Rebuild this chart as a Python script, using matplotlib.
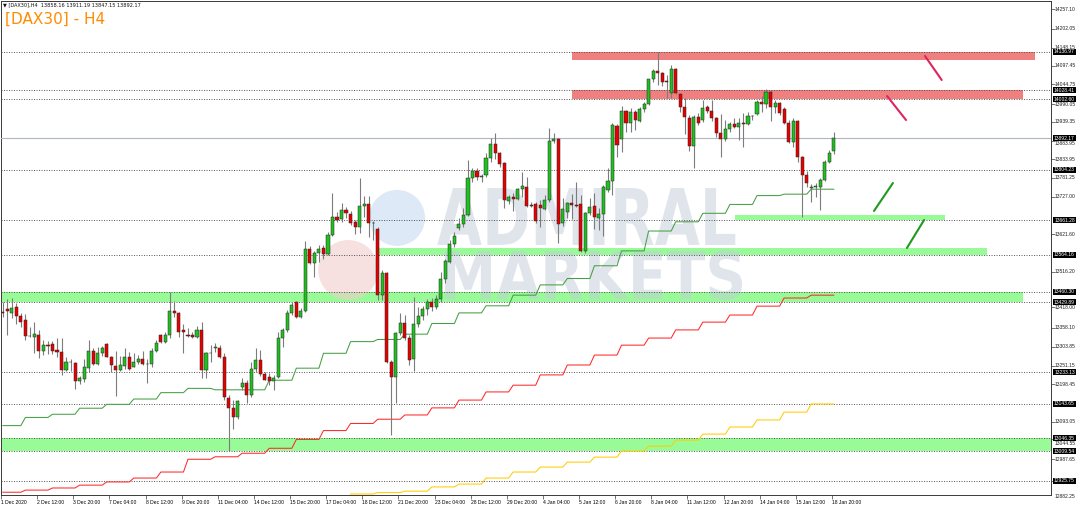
import numpy as np
import matplotlib
matplotlib.use("Agg")
import matplotlib.pyplot as plt
from matplotlib.patches import Rectangle, Ellipse, PathPatch
from matplotlib.textpath import TextPath
from matplotlib.font_manager import FontProperties
import matplotlib.transforms as mtransforms

# ---------------- data ----------------
opens = [13402, 13410, 13399, 13416, 13391, 13380, 13336, 13333, 13339, 13292,
         13309, 13313, 13295, 13290, 13239, 13262, 13259, 13208, 13214, 13245,
         13292, 13256, 13286, 13312, 13276, 13251, 13239, 13250, 13276, 13248,
         13262, 13271, 13257, 13255, 13292, 13338, 13319, 13339, 13406, 13401,
         13352, 13337, 13337, 13331, 13352, 13239, 13288, 13300, 13302, 13276,
         13159, 13131, 13105, 13192, 13201, 13168, 13241, 13267, 13227, 13220,
         13207, 13218, 13328, 13352, 13401, 13431, 13389, 13406, 13580, 13542,
         13568, 13582, 13566, 13620, 13670, 13664, 13690, 13679, 13657, 13643,
         13702, 13706, 13655, 13636, 13450, 13512, 13262, 13220, 13342, 13372,
         13328, 13270, 13368, 13391, 13410, 13430, 13418, 13440, 13497, 13545,
         13594, 13640, 13650, 13676, 13780, 13800, 13784, 13789, 13838, 13876,
         13850, 13822, 13716, 13728, 13720, 13749, 13756, 13705, 13707, 13704,
         13693, 13718, 13886, 13891, 13653, 13686, 13711, 13705, 13706, 13576,
         13681, 13702, 13667, 13678, 13747, 13772, 13928, 13891, 13970, 13935,
         13968, 13941, 13974, 13989, 14059, 14083, 14076, 14053, 14021, 14087,
         14017, 13982, 13949, 13871, 13952, 13944, 13980, 13970, 13949, 13907,
         13890, 13918, 13933, 13925, 13936, 13933, 13955, 13961, 13996, 13988,
         14024, 13980, 13991, 13975, 13937, 13883, 13941, 13841, 13789, 13751,
         13755, 13756, 13775, 13827, 13858.16]
highs = [13432, 13438, 13441, 13427, 13401, 13397, 13361, 13373, 13351, 13323,
         13321, 13321, 13330, 13330, 13276, 13269, 13261, 13222, 13269, 13323,
         13300, 13305, 13308, 13316, 13278, 13293, 13278, 13300, 13290, 13286,
         13281, 13293, 13269, 13300, 13323, 13340, 13347, 13460, 13434, 13403,
         13370, 13356, 13347, 13363, 13375, 13290, 13309, 13316, 13309, 13286,
         13168, 13154, 13154, 13215, 13210, 13262, 13300, 13295, 13234, 13229,
         13225, 13345, 13356, 13408, 13431, 13434, 13413, 13603, 13589, 13576,
         13592, 13591, 13629, 13737, 13686, 13709, 13698, 13688, 13662, 13780,
         13730, 13730, 13660, 13643, 13521, 13516, 13267, 13347, 13400, 13393,
         13338, 13446, 13417, 13420, 13440, 13442, 13450, 13516, 13551, 13606,
         13629, 13667, 13695, 13830, 13808, 13808, 13792, 13850, 13893, 13907,
         13855, 13826, 13733, 13737, 13751, 13798, 13784, 13714, 13714, 13718,
         13733, 13921, 13907, 13893, 13723, 13714, 13735, 13770, 13733, 13686,
         13725, 13739, 13695, 13761, 13808, 13937, 13933, 13984, 13973, 13977,
         13972, 13982, 13996, 14061, 14087, 14137, 14081, 14071, 14100, 14090,
         14021, 14005, 13958, 13958, 13964, 14002, 13987, 14002, 13953, 13961,
         13944, 13940, 13949, 13949, 13963, 13968, 13958, 14000, 14013, 14031,
         14029, 14001, 13996, 13982, 13944, 13949, 13944, 13843, 13801, 13764,
         13766, 13780, 13831, 13860, 13911.19]
lows = [13389, 13338, 13385, 13369, 13361, 13323, 13333, 13286, 13274, 13281,
        13284, 13284, 13276, 13225, 13237, 13237, 13184, 13199, 13206, 13234,
        13253, 13252, 13278, 13275, 13234, 13165, 13237, 13243, 13239, 13246,
        13257, 13253, 13201, 13246, 13290, 13314, 13314, 13328, 13389, 13331,
        13288, 13333, 13328, 13328, 13215, 13215, 13262, 13290, 13272, 13154,
        13011, 13071, 13100, 13182, 13147, 13163, 13234, 13222, 13211, 13196,
        13182, 13215, 13305, 13347, 13394, 13385, 13387, 13403, 13537, 13502,
        13545, 13551, 13563, 13617, 13657, 13657, 13667, 13648, 13624, 13626,
        13671, 13615, 13606, 13436, 13436, 13259, 13055, 13147, 13338, 13323,
        13253, 13237, 13361, 13380, 13395, 13405, 13410, 13430, 13483, 13540,
        13587, 13634, 13643, 13672, 13770, 13775, 13770, 13784, 13827, 13833,
        13813, 13695, 13707, 13688, 13719, 13728, 13698, 13700, 13655, 13643,
        13690, 13714, 13880, 13596, 13645, 13667, 13664, 13700, 13573, 13568,
        13676, 13638, 13634, 13617, 13742, 13732, 13841, 13855, 13911, 13911,
        13916, 13939, 13968, 13987, 14052, 14043, 14040, 14005, 14005, 14017,
        13968, 13906, 13857, 13808, 13930, 13939, 13965, 13942, 13895, 13841,
        13886, 13911, 13921, 13888, 13869, 13930, 13944, 13958, 13968, 13977,
        13942, 13963, 13958, 13933, 13880, 13869, 13827, 13671, 13756, 13714,
        13728, 13690, 13773, 13822, 13847.15]
closes = [13399, 13406, 13415, 13391, 13375, 13336, 13335, 13340, 13292, 13309,
          13307, 13293, 13290, 13239, 13262, 13261, 13208, 13216, 13248, 13292,
          13256, 13288, 13302, 13276, 13252, 13239, 13252, 13276, 13243, 13261,
          13271, 13257, 13255, 13292, 13316, 13319, 13338, 13406, 13399, 13347,
          13345, 13336, 13333, 13352, 13239, 13286, 13287, 13305, 13276, 13163,
          13131, 13105, 13151, 13201, 13168, 13241, 13267, 13227, 13212, 13208,
          13217, 13328, 13352, 13401, 13422, 13389, 13406, 13580, 13542, 13570,
          13580, 13566, 13620, 13670, 13662, 13690, 13683, 13655, 13643, 13702,
          13706, 13655, 13653, 13450, 13512, 13262, 13220, 13342, 13372, 13328,
          13267, 13368, 13391, 13410, 13430, 13418, 13440, 13497, 13546, 13594,
          13617, 13650, 13676, 13780, 13800, 13783, 13785, 13838, 13876, 13850,
          13819, 13719, 13728, 13721, 13749, 13758, 13702, 13703, 13660, 13695,
          13718, 13886, 13891, 13651, 13693, 13711, 13704, 13703, 13576, 13681,
          13700, 13671, 13678, 13754, 13772, 13930, 13874, 13970, 13935, 13968,
          13944, 13974, 13989, 14059, 14083, 14076, 14052, 14051, 14087, 14021,
          13982, 13954, 13871, 13952, 13937, 13977, 13970, 13949, 13908, 13890,
          13918, 13933, 13925, 13935, 13934, 13956, 13955, 13996, 13988, 14024,
          13980, 13991, 13963, 13937, 13883, 13941, 13841, 13789, 13766, 13756,
          13757, 13775, 13827, 13852, 13892.17]

# bars per trading day (first day partially shown), and one value per day for the step lines
day_bar_counts = [5] + [6] * 30
line_green_daily = [13082, 13105, 13114, 13131, 13142, 13157, 13175, 13187, 13183, 13183,
                    13210, 13244, 13286, 13319, 13325, 13340, 13370, 13400, 13420, 13450,
                    13479, 13497, 13533, 13575, 13631, 13657, 13681, 13706, 13731, 13735,
                    13749]
line_red_daily = [12894, 12900, 12906, 12914, 12923, 12934, 12951, 12987, 12994, 13004,
                  13018, 13043, 13068, 13088, 13100, 13112, 13132, 13154, 13177, 13196,
                  13225, 13253, 13281, 13309, 13329, 13352, 13374, 13394, 13419, 13442,
                  13450]
line_yellow_daily = [np.nan] * 13 + [12889, 12893, 12897, 12909, 12917, 12934, 12951, 12965,
                                     12979, 12993, 13010, 13024, 13041, 13058, 13078, 13098,
                                     13120, 13143]

level_prices = [14136.97, 14028.41, 14002.60, 13804.23, 13661.28, 13564.16, 13460.30,
                13429.89, 13233.13, 13143.65, 13046.35, 13009.54, 12925.75]
bid_price = 13892.17

axis_tick_prices = [14257.10, 14202.05, 14148.15, 14097.45, 14044.75, 13990.05, 13939.35,
                    13883.95, 13833.95, 13781.25, 13727.00, 13621.60, 13516.20, 13418.00,
                    13358.10, 13303.85, 13251.15, 13198.45, 13093.05, 13044.55, 12987.65,
                    12926.95, 12882.25]

time_tick_labels = ["1 Dec 2020", "2 Dec 12:00", "3 Dec 20:00", "7 Dec 04:00", "8 Dec 12:00",
                    "9 Dec 20:00", "11 Dec 04:00", "14 Dec 12:00", "15 Dec 20:00",
                    "17 Dec 04:00", "18 Dec 12:00", "21 Dec 20:00", "23 Dec 04:00",
                    "28 Dec 12:00", "29 Dec 20:00", "4 Jan 04:00", "5 Jan 12:00",
                    "6 Jan 20:00", "8 Jan 04:00", "11 Jan 12:00", "12 Jan 20:00",
                    "14 Jan 04:00", "15 Jan 12:00", "18 Jan 20:00"]
time_tick_step = 8

# zones: bar range and price range
red_zone_x0 = [126.1, 126.1]
red_zone_x1 = [228.6, 225.9]
red_zone_lo = [14113.6, 14002.60]
red_zone_hi = [14136.97, 14028.41]
green_zone_x0 = [162.2, 83.1, -1.0, -1.0]
green_zone_x1 = [208.7, 217.9, 225.9, 240.0]
green_zone_lo = [13661.28, 13564.16, 13429.89, 13009.54]
green_zone_hi = [13677.0, 13583.0, 13460.30, 13046.35]

# hand-drawn direction strokes (bar, price) start -> end
red_stroke_x0 = [204.2, 195.8]
red_stroke_y0 = [14124.8, 14011.9]
red_stroke_x1 = [207.9, 200.0]
red_stroke_y1 = [14057.1, 13944.2]
green_stroke_x0 = [192.9, 200.2]
green_stroke_y0 = [13687.5, 13583.1]
green_stroke_x1 = [197.1, 204.0]
green_stroke_y1 = [13766.5, 13662.1]

header_text = "\u25bc [DAX30],H4  13858.16 13911.19 13847.15 13892.17"
title_text = "[DAX30] - H4"

assert len(opens) == len(highs) == len(lows) == len(closes) == sum(day_bar_counts), \
    (len(opens), len(highs), len(lows), len(closes))

# ---------------- figure ----------------
W, H, DPI = 1080, 508, 100
fig = plt.figure(figsize=(W / DPI, H / DPI), dpi=DPI, facecolor="white")
L_PX, R_PX, T_PX, B_PX = 1, 1051, 1, 494.5
ax = fig.add_axes([L_PX / W, (H - B_PX) / H, (R_PX - L_PX) / W, (B_PX - T_PX) / H])
ax.set_facecolor("white")

XLIM = (-0.376, 232.1)
YLIM = (12887.6, 14280.0)

small_font = ["Liberation Sans", "DejaVu Sans"]
FS = 3.6

o = np.array(opens, float)
h = np.array(highs, float)
l = np.array(lows, float)
c = np.array(closes, float)
n = len(o)
x = np.arange(n)

# zones
for x0, x1, lo, hi in zip(red_zone_x0, red_zone_x1, red_zone_lo, red_zone_hi):
    ax.add_patch(Rectangle((x0, lo), x1 - x0, hi - lo, facecolor="#f08080",
                           edgecolor="none", zorder=1))
for x0, x1, lo, hi in zip(green_zone_x0, green_zone_x1, green_zone_lo, green_zone_hi):
    ax.add_patch(Rectangle((x0, lo), x1 - x0, hi - lo, facecolor="#98fb98",
                           edgecolor="none", zorder=1))

# watermark (logo circles + text)
ax.add_patch(Ellipse((87.3, 13668), 12.4, 158, facecolor="#cfe0f5", edgecolor="none",
                     alpha=0.7, zorder=2))
ax.add_patch(Ellipse((76.5, 13521), 13.3, 169, facecolor="#f3cccc", edgecolor="none",
                     alpha=0.6, zorder=2))
fp = FontProperties(family="DejaVu Sans", weight="bold")


def add_word(word, x0, x1, y0, y1):
    tp = TextPath((0, 0), word, size=1, prop=fp)
    bb = tp.get_extents()
    tr = (mtransforms.Affine2D().translate(-bb.x0, -bb.y0)
          .scale((x1 - x0) / bb.width, (y1 - y0) / bb.height)
          .translate(x0, y0) + ax.transData)
    ax.add_patch(PathPatch(tp, transform=tr, facecolor="#c3ccda", edgecolor="none",
                           alpha=0.5, zorder=2))


add_word("ADMIRAL", 96.2, 162.2, 13591.6, 13752.4)
add_word("MARKETS", 97.9, 163.7, 13436.4, 13577.5)

# horizontal levels
for v in level_prices:
    ax.axhline(v, color="#4a4a4a", lw=0.6, ls=(0, (1.3, 1.7)), zorder=3)
ax.axhline(bid_price, color="#aeb6bf", lw=0.8, zorder=3)

# step lines
ax.plot(x, np.repeat(line_green_daily, day_bar_counts), color="#45a045", lw=0.75, zorder=4)
ax.plot(x, np.repeat(line_red_daily, day_bar_counts), color="#ff2a2a", lw=0.75, zorder=4)
ax.plot(x, np.repeat(line_yellow_daily, day_bar_counts), color="#ffcc00", lw=0.75, zorder=4)

# candles
ax.vlines(x, l, h, color="#7c7c7c", lw=0.8, zorder=5)
up = c >= o
lo_b = np.minimum(o, c)
hgt = np.maximum(np.abs(c - o), 1.2)
ax.bar(x[up], hgt[up], 0.68, bottom=lo_b[up], color="#1fc01f", edgecolor="#262626",
       lw=0.35, zorder=6)
ax.bar(x[~up], hgt[~up], 0.68, bottom=lo_b[~up], color="#e80000", edgecolor="#262626",
       lw=0.35, zorder=6)

# direction strokes
for a, b, cc, d in zip(red_stroke_x0, red_stroke_y0, red_stroke_x1, red_stroke_y1):
    ax.plot([a, cc], [b, d], color="#e0245e", lw=1.5, solid_capstyle="round", zorder=7)
for a, b, cc, d in zip(green_stroke_x0, green_stroke_y0, green_stroke_x1, green_stroke_y1):
    ax.plot([a, cc], [b, d], color="#1e9a1e", lw=1.5, solid_capstyle="round", zorder=7)

ax.set_xlim(*XLIM)
ax.set_ylim(*YLIM)

# spines
for s in ax.spines.values():
    s.set_color("#3a3a3a")
    s.set_linewidth(0.7)

# x ticks
tick_pos = np.arange(0, n, time_tick_step) - 0.4
ax.set_xticks(tick_pos)
ax.set_xticklabels(time_tick_labels, ha="left", fontsize=FS, family=small_font)
ax.tick_params(axis="x", length=3, width=0.5, pad=1.2, color="#3a3a3a")

# y ticks on the right (marks only; labels drawn manually)
ax.yaxis.tick_right()
in_range = [v for v in axis_tick_prices if YLIM[0] <= v <= YLIM[1]]
ax.set_yticks(in_range)
ax.set_yticklabels([""] * len(in_range))
ax.tick_params(axis="y", length=3, width=0.5, color="#3a3a3a")

blend = mtransforms.blended_transform_factory(ax.transAxes, ax.transData)
px_per_price = (B_PX - T_PX) / (YLIM[1] - YLIM[0])


def ax_x(px):
    return (px - L_PX) / (R_PX - L_PX)


box_h = 6.0 / px_per_price
box_levels = level_prices + [bid_price]
for v in axis_tick_prices:
    # labels that sit right under a level box are shown just below it, as in the reference
    near = [b for b in box_levels if abs(b - v) < box_h * 0.9]
    yv = v
    if near:
        yv = min(v, near[0] - box_h * 0.5 - 2.2 / px_per_price) if v < near[0] else v
    ax.text(ax_x(1055), yv, f"{v:.2f}", transform=blend, fontsize=FS,
            family=small_font, va="center", ha="left", color="#222222", clip_on=False,
            zorder=8)

for v in box_levels:
    ax.add_patch(Rectangle((ax_x(1053), v - box_h / 2), ax_x(1076) - ax_x(1053), box_h,
                           transform=blend, facecolor="black", edgecolor="none",
                           clip_on=False, zorder=20))
    ax.text(ax_x(1064.5), v, f"{v:.2f}", transform=blend, fontsize=FS, family=small_font,
            va="center", ha="center", color="white", clip_on=False, zorder=21)

# header and title
fig.text(3 / W, (H - 5) / H, header_text, fontsize=FS, family=["DejaVu Sans"],
         va="center", ha="left", color="#111111")
fig.text(5 / W, (H - 24) / H, title_text, fontsize=11, family=["DejaVu Sans"],
         va="baseline", ha="left", color="#ff8c00")

fig.savefig("out.png", dpi=DPI, facecolor="white")
